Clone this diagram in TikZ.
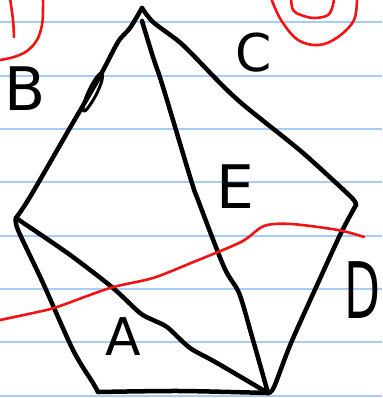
\documentclass[tikz,border=0pt]{standalone}
\usepackage{fontspec}
\setmainfont{DejaVu Sans}
\definecolor{ruleblue}{RGB}{165,205,248}
\definecolor{penred}{RGB}{240,20,20}

\begin{document}
\begin{tikzpicture}[x=1pt,y=-1pt,
  ruled/.style={line width=2pt,ruleblue},
  ink/.style={line width=4.5pt,line cap=round,line join=round},
  redink/.style={line width=2.6pt,penred,line cap=round,line join=round},
  letter/.style={inner sep=0pt,font=\fontsize{#1}{#1}\selectfont}]
\useasboundingbox (0,0) rectangle (382,398);
\fill[white] (0,0) rectangle (382,398);
% paper lines
\draw[ruled] (0,22.5) -- (382,22.5);
\draw[ruled] (0,75.8) -- (382,75.8);
\draw[ruled] (0,129.1) -- (382,129.1);
\draw[ruled] (0,182.4) -- (382,182.4);
\draw[ruled] (0,235.7) -- (382,235.7);
\draw[ruled] (0,289.0) -- (382,289.0);
\draw[ruled] (0,342.3) -- (382,342.3);
\draw[ruled] (0,395.6) -- (382,395.6);
% corners
\coordinate (T) at (142,8);
\coordinate (T2) at (142,21);
\coordinate (L) at (16,218);
\coordinate (R) at (356,205);
\coordinate (BL) at (98,392);
\coordinate (BR) at (268,393);
% outline
\draw[ink] plot[smooth,tension=0.5] coordinates {(L) (30,197) (67,133) (100,76) (118,42) (130,28) (T)};
\draw[ink] plot[smooth,tension=0.5] coordinates {(T) (153,22) (177,40) (191,53) (224,87) (246,107) (291,143) (311,160) (351,197) (R)};
\draw[ink] plot[smooth,tension=0.5] coordinates {(R) (341,233) (318,283) (291,343) (274,387) (BR)};
\draw[ink] plot[smooth,tension=0.5] coordinates {(BR) (180,391) (BL)};
\draw[ink] plot[smooth,tension=0.5] coordinates {(BL) (93,383) (73,350) (43,283) (18,230) (L)};
% diagonals
\draw[ink] plot[smooth,tension=0.5] coordinates {(L) (53,243) (77,260) (113,288) (140,313) (153,320) (167,327) (183,342) (193,350) (217,363) (BR)};
\draw[ink] plot[smooth,tension=0.5] coordinates {(T2) (153,57) (163,87) (191,180) (198,200) (224,267) (239,293) (251,333) (BR)};
% little loop on the left edge
\draw[ink,line width=3pt] plot[smooth cycle,tension=0.6] coordinates {(83,110) (86,97) (94,81) (101,73) (102,80) (96,95) (87,109)};
% labels
\node[letter=60] (labB) at (25,89) {B};
\node[letter=52] (labC) at (254,53) {C};
\node[letter=60] (labE) at (235,187) {E};
\node[letter=78] (labD) at (363,290) {\scalebox{0.6}[1]{D}};
\node[letter=52] (labA) at (123,337) {A};
% red marks
\draw[redink] plot[smooth,tension=0.6] coordinates {(0,60) (14,57) (27,51) (37,40) (42,25) (43,10) (43,-2)};
\draw[redink] plot[smooth,tension=0.6] coordinates {(14,37) (13,20) (10,-2)};
\draw[redink] plot[smooth,tension=0.6] coordinates {(271,-2) (281,20) (298,40) (319,45) (338,37) (354,20) (357,-2)};
\draw[redink] plot[smooth,tension=0.6] coordinates {(291,-2) (293,10) (301,15) (314,18) (328,15) (333,5) (334,-2)};
\draw[redink] plot[smooth,tension=0.5] coordinates {(0,320) (33,313) (57,307) (110,288) (153,278) (191,263) (241,242) (264,226) (291,224) (338,230) (364,237)};
\end{tikzpicture}
\end{document}
